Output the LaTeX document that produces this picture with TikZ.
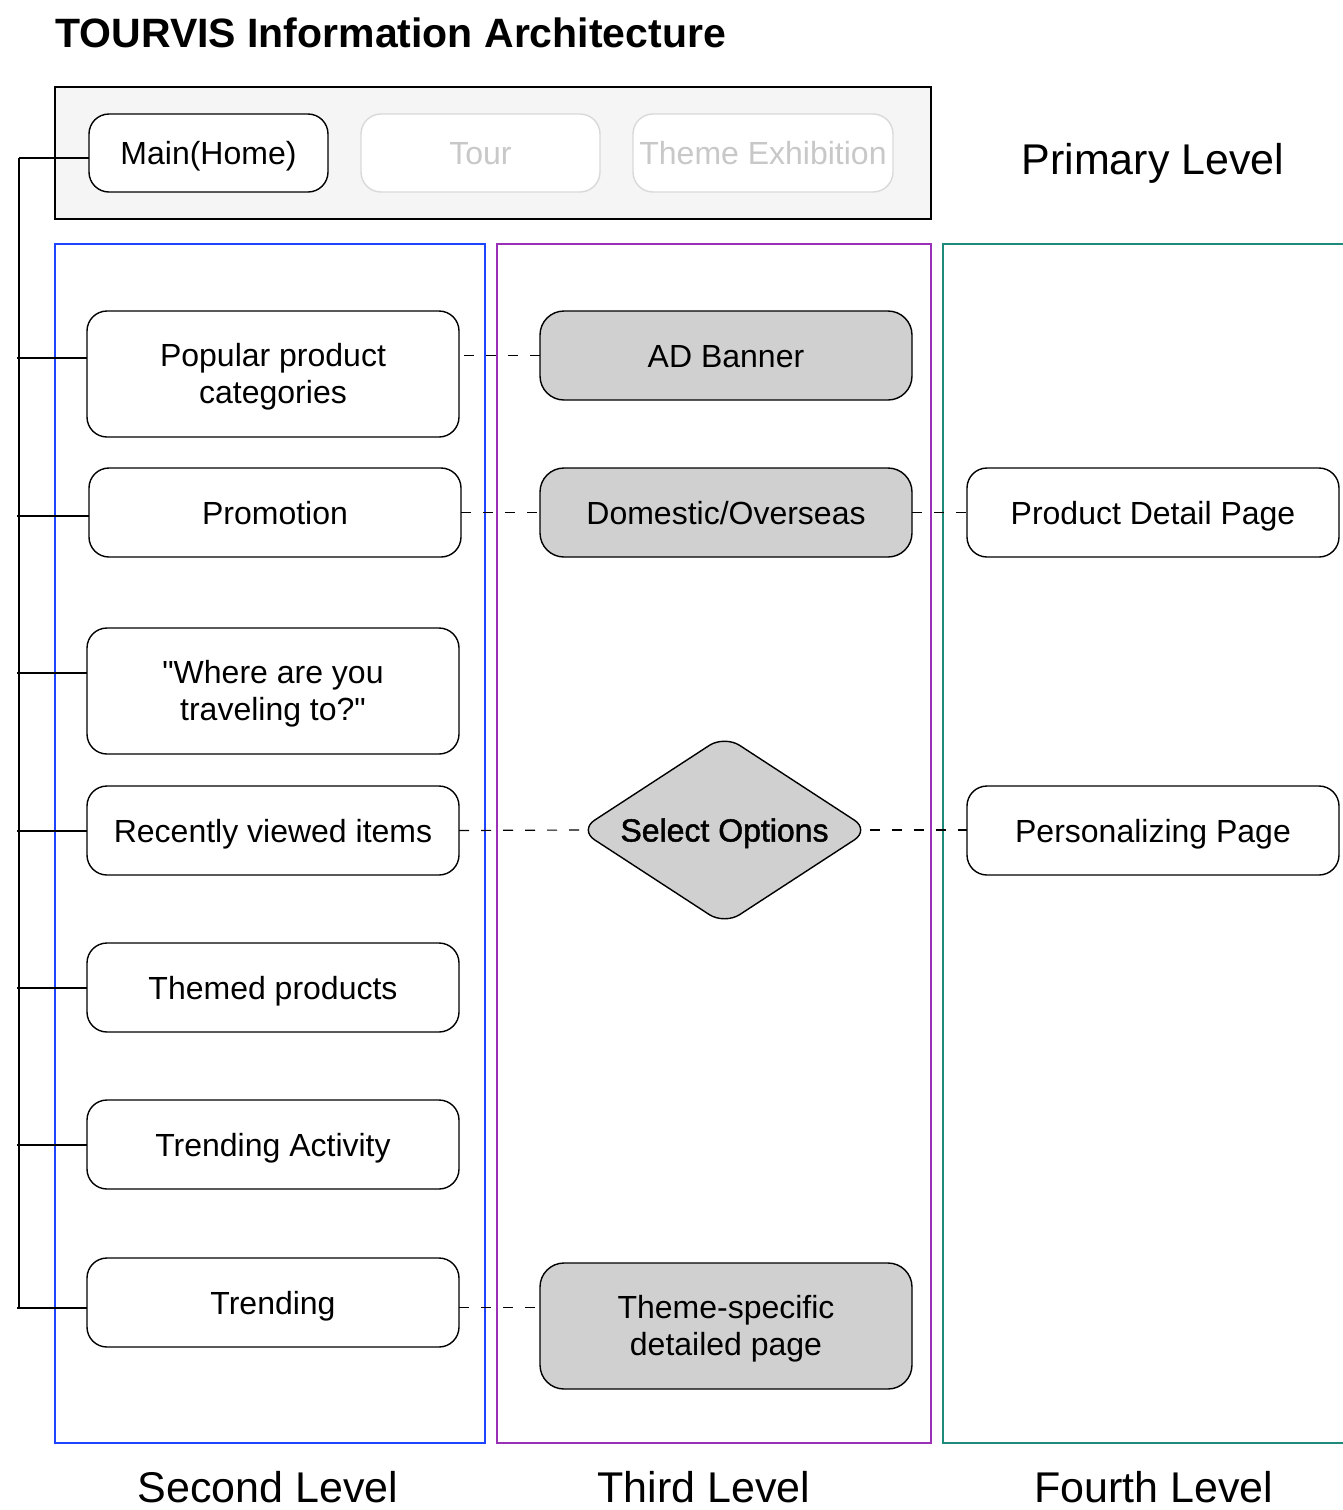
\documentclass[tikz,border=0pt]{standalone}
\usepackage{fontspec}
\setmainfont{Liberation Sans}
\newfontfamily\medfont{Liberation Sans}[FakeBold=1.5]
\newfontfamily\qfont{Liberation Sans}
\usetikzlibrary{shapes.geometric,calc}
\definecolor{framegray}{HTML}{F5F5F5}
\definecolor{boxgray}{HTML}{D0D0D0}
\definecolor{fadeline}{HTML}{D9D9D9}
\definecolor{fadetext}{HTML}{C8C8C8}
\definecolor{bluef}{HTML}{1F44FF}
\definecolor{purplef}{HTML}{9B30B8}
\definecolor{tealf}{HTML}{1E8A7A}
\newcommand{\dq}{{\qfont\symbol{34}}}
\tikzset{
  base/.style={draw=black, line width=0.7pt, rounded corners=10pt, align=center,
    inner sep=0pt, outer sep=0pt, font=\fontsize{16}{18.5}\selectfont},
  wbox/.style={base, fill=white, minimum width=186pt},
  gbox/.style={base, fill=boxgray, minimum width=186pt, rounded corners=12pt},
  tabbox/.style={base, fill=white, minimum height=39pt, text height=11.5pt, text depth=0pt},
  fadebox/.style={tabbox, draw=fadeline, text=fadetext},
  short/.style={minimum height=44.5pt, text height=11.5pt, text depth=0pt},
  tall/.style={minimum height=63pt, text height=30pt, text depth=0.25pt},
  frame/.style={line width=0.9pt},
  link/.style={line width=1pt, black},
  dlink/.style={line width=0.6pt, black, dash pattern=on 5pt off 6pt},
  lvl/.style={font=\fontsize{21.5}{24}\selectfont, inner sep=0pt, anchor=base},
}
\begin{document}
\begin{tikzpicture}[x=0.5pt,y=-0.5pt]
\useasboundingbox (0,0) rectangle (1343,1510);
% title
\node[font=\fontsize{20.5}{24}\selectfont\bfseries, inner sep=0pt, anchor=base west] (title) at (55,47) {TOURVIS Information Architecture};
% primary level band
\draw[line width=1pt, fill=framegray] (55,87) rectangle (931,219);
\node[tabbox, minimum width=119.5pt] (main) at (208.5,153) {Main(Home)};
\node[fadebox, minimum width=119.5pt] (tour) at (480.5,153) {Tour};
\node[fadebox, minimum width=130pt] (themeex) at (763,153) {Theme Exhibition};
\node[lvl] (prim) at (1153,174) {Primary Level};
% frames
\draw[frame, bluef] (55,244) rectangle (485,1443);
\draw[frame, purplef] (497,244) rectangle (931,1443);
\draw[frame, tealf] (1350,244) -- (943,244) -- (943,1443) -- (1350,1443);
% second level
\node[wbox, tall] (pop) at (273,374) {Popular product\\ categories};
\node[wbox, short] (promo) at (275,512.5) {Promotion};
\node[wbox, tall] (where) at (273,691) {\dq Where are you\\ traveling to?\dq};
\node[wbox, short] (recent) at (273,830.5) {Recently viewed items};
\node[wbox, short] (themed) at (273,987.5) {Themed products};
\node[wbox, short] (tact) at (273,1144.5) {Trending Activity};
\node[wbox, short] (trend) at (273,1302.5) {Trending};
% third level
\node[gbox, short] (ad) at (726,355.5) {AD Banner};
\node[gbox, short] (dom) at (726,512.5) {Domestic/Overseas};
\node[draw=black, line width=0.7pt, fill=boxgray, shape=diamond, aspect=1.53,
  minimum width=145pt, minimum height=94.5pt, inner sep=0pt, outer sep=0pt,
  rounded corners=9pt, text height=11.5pt, text depth=0pt,
  font=\fontsize{16}{18.5}\medfont] (sel) at (724.5,830) {Select Options};
\node[gbox, tall] (tsp) at (726,1326) {Theme-specific\\ detailed page};
% fourth level
\node[wbox, short] (pdp) at (1153,512.5) {Product Detail Page};
\node[wbox, short] (pers) at (1153,830.5) {Personalizing Page};
% level labels
\node[lvl] (l2) at (268,1502) {Second Level};
\node[lvl] (l3) at (704,1502) {Third Level};
\node[lvl] (l4) at (1154,1502) {Fourth Level};
% spine
\coordinate (top) at (19,158);
\coordinate (bot) at (19,1307);
\draw[link, line width=0.75pt] (top) -- (bot);
\coordinate (m1) at ([yshift=-2.5pt]main.west);
\coordinate (c1) at ([yshift=8pt]pop.west);
\coordinate (c2) at ([yshift=-1.5pt]promo.west);
\coordinate (c3) at ([yshift=9pt]where.west);
\coordinate (c4) at (recent.west);
\coordinate (c5) at (themed.west);
\coordinate (c6) at (tact.west);
\coordinate (c7) at ([yshift=-2.5pt]trend.west);
\draw[link, line width=0.75pt] (m1) -- (top |- m1);
\foreach \c in {c1,c2,c3,c4,c5,c6,c7}
  \draw[link] (\c) -- ([xshift=-1pt]top |- \c);
% dashed links
\draw[dlink] (ad.west) -- (ad.west -| pop.east);
\draw[dlink] (promo.east) -- (promo.east -| dom.west);
\draw[dlink] (dom.east) -- (dom.east -| pdp.west);
\draw[dlink] (recent.east) -- (sel.west);
\draw[dlink] (sel.east) -- (sel.east -| pers.west);
\draw[dlink] ([yshift=-2.5pt]trend.east) -- ([yshift=-2.5pt]trend.east -| tsp.west);
\end{tikzpicture}
\end{document}
